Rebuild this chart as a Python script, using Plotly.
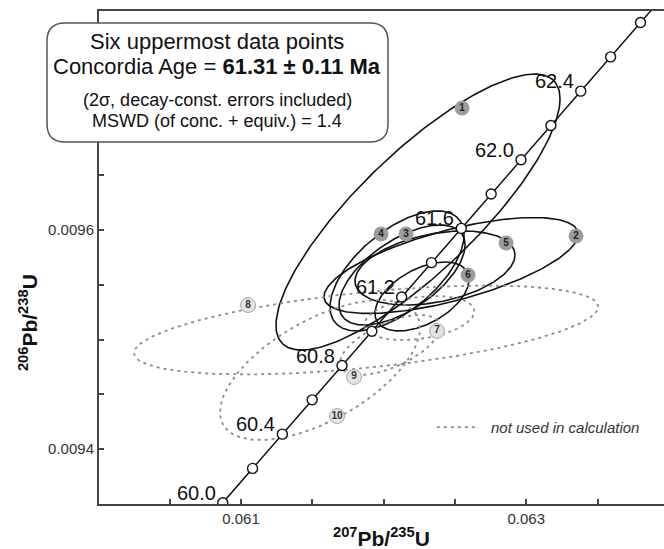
import numpy as np
import plotly.graph_objects as go

# ---------------- data ----------------
# Concordia reference points (age in Ma, 207Pb/235U, 206Pb/238U)
ages = [60.0, 60.2, 60.4, 60.6, 60.8, 61.0, 61.2, 61.4, 61.6, 61.8,
        62.0, 62.2, 62.4, 62.6, 62.8, 63.0]
conc_x = [0.0608718, 0.0610808, 0.0612898, 0.0614989, 0.0617080, 0.0619172,
          0.0621262, 0.0623355, 0.0625448, 0.0627541, 0.0629634, 0.0631728,
          0.0633822, 0.0635917, 0.0638013, 0.0640108]
conc_y = [0.00935095, 0.00938227, 0.00941358, 0.00944490, 0.00947622, 0.00950754,
          0.00953885, 0.00957018, 0.00960151, 0.00963283, 0.00966415, 0.00969548,
          0.00972680, 0.00975813, 0.00978945, 0.00982079]
age_labels = ["60.0", "60.4", "60.8", "61.2", "61.6", "62.0", "62.4"]

# Error ellipses (2 sigma): centre, errors, error correlation
ell_id = ["1", "2", "3", "4", "5", "6", "7", "8", "9", "10"]
ell_x = [0.062241, 0.062473, 0.062129, 0.062094, 0.062360, 0.062269, 0.062250, 0.061877, 0.062045, 0.061554]
ell_y = [0.0096164, 0.0095676, 0.0095589, 0.0095626, 0.0095653, 0.0095393, 0.0095196, 0.0095087, 0.0094950, 0.0094721]
ell_ex = [0.000996, 0.000891, 0.000442, 0.000470, 0.000561, 0.000330, 0.000386, 0.001627, 0.000351, 0.000701]
ell_ey = [0.0001260, 0.0000438, 0.0000457, 0.0000548, 0.0000338, 0.0000315, 0.0000201, 0.0000406, 0.0000274, 0.0000639]
ell_rho = [0.82, 0.65, 0.60, 0.60, 0.35, 0.49, 0.30, 0.52, 0.60, 0.60]
ell_used = [True, True, True, True, True, True, False, False, False, False]

# Ellipse number-label positions
lab_x = [0.0625498, 0.0633492, 0.0621571, 0.0619818, 0.0628583, 0.0625919, 0.0623745, 0.0610491, 0.0617924, 0.0616732]
lab_y = [0.0097114, 0.0095945, 0.0095963, 0.0095963, 0.0095881, 0.0095589, 0.0095078, 0.0095315, 0.0094658, 0.0094301]

x_tickvals = [0.061, 0.063]
x_ticktext = ["0.061", "0.063"]
x_minor = [0.0605, 0.0615, 0.062, 0.0625, 0.0635]
y_tickvals = [0.0094, 0.0096]
y_ticktext = ["0.0094", "0.0096"]
y_minor = [0.00945, 0.0095, 0.00955, 0.00965, 0.0097, 0.00975]

FONT = "Liberation Sans, Arial, sans-serif"

fig = go.Figure()

# ---------------- ellipses ----------------
t = np.linspace(0, 2 * np.pi, 240)
for i in range(len(ell_id)):
    ex, ey, r = ell_ex[i], ell_ey[i], ell_rho[i]
    xs = ell_x[i] + ex * np.cos(t)
    ys = ell_y[i] + ey * (r * np.cos(t) + np.sqrt(1 - r * r) * np.sin(t))
    if ell_used[i]:
        line = dict(color="#111111", width=1.6)
    else:
        line = dict(color="#8c8c8c", width=1.8, dash="3px,4px")
    fig.add_trace(go.Scatter(x=xs, y=ys, mode="lines", line=line,
                             hoverinfo="skip", showlegend=False))

# ---------------- concordia ----------------
fig.add_trace(go.Scatter(x=conc_x, y=conc_y, mode="lines+markers",
                         line=dict(color="#111111", width=1.5),
                         marker=dict(symbol="circle", size=10, color="white",
                                     line=dict(color="#111111", width=1.4)),
                         showlegend=False, hoverinfo="skip"))

# ellipse labels
used_idx = [i for i in range(10) if ell_used[i]]
unused_idx = [i for i in range(10) if not ell_used[i]]
fig.add_trace(go.Scatter(x=[lab_x[i] for i in used_idx], y=[lab_y[i] for i in used_idx],
                         mode="markers+text", text=["<b>%s</b>" % ell_id[i] for i in used_idx],
                         textposition="middle center",
                         textfont=dict(family=FONT, size=10, color="#222222"),
                         marker=dict(size=15, color="#9c9c9c", line=dict(width=0)),
                         showlegend=False, hoverinfo="skip"))
fig.add_trace(go.Scatter(x=[lab_x[i] for i in unused_idx], y=[lab_y[i] for i in unused_idx],
                         mode="markers+text", text=["<b>%s</b>" % ell_id[i] for i in unused_idx],
                         textposition="middle center",
                         textfont=dict(family=FONT, size=10, color="#333333"),
                         marker=dict(size=15, color="#e2e2e2", line=dict(width=1, color="#aaaaaa")),
                         showlegend=False, hoverinfo="skip"))

# age labels on concordia
annotations = []
for lab in age_labels:
    k = ages.index(float(lab))
    annotations.append(dict(x=conc_x[k], y=conc_y[k], xref="x", yref="y",
                            text=lab, showarrow=False, xanchor="right", yanchor="middle",
                            xshift=-5, yshift=10,
                            font=dict(family=FONT, size=20, color="#111111")))

# ---------------- info box ----------------
x0, x1 = -0.0920, 0.5115
y0, y1 = 0.7343, 0.9757
rx, ry = 0.0319, 0.0365
box_path = (f"M {x0+rx},{y1} L {x1-rx},{y1} Q {x1},{y1} {x1},{y1-ry} "
            f"L {x1},{y0+ry} Q {x1},{y0} {x1-rx},{y0} L {x0+rx},{y0} "
            f"Q {x0},{y0} {x0},{y0+ry} L {x0},{y1-ry} Q {x0},{y1} {x0+rx},{y1} Z")
shapes = [dict(type="path", xref="paper", yref="paper", path=box_path,
               fillcolor="white", line=dict(color="#555555", width=1.5), layer="above")]

cx = 0.2097
box_lines = [
    ("Six uppermost data points", 0.9391, 22),
    ("Concordia Age = <b>61.31 ± 0.11 Ma</b>", 0.8874, 22),
    ("(2σ, decay-const. errors included)", 0.8195, 18),
    ("MSWD (of conc. + equiv.) = 1.4", 0.7769, 18),
]
for txt, yy, sz in box_lines:
    annotations.append(dict(x=cx, y=yy, xref="paper", yref="paper", text=txt,
                            showarrow=False, xanchor="center", yanchor="middle",
                            font=dict(family=FONT, size=sz, color="#111111")))

# legend for dashed ellipses
shapes.append(dict(type="line", xref="paper", yref="paper", x0=0.598, x1=0.6726,
                   y0=0.156, y1=0.156, line=dict(color="#8c8c8c", width=1.8, dash="3px,4px")))
annotations.append(dict(x=0.690, y=0.156, xref="paper", yref="paper",
                        text="<i>not used in calculation</i>", showarrow=False,
                        xanchor="left", yanchor="middle",
                        font=dict(family=FONT, size=15, color="#333333")))

# axis titles
annotations.append(dict(x=0.5, y=-0.066, xref="paper", yref="paper",
                        text="<b><sup>207</sup>Pb/<sup>235</sup>U</b>", showarrow=False,
                        xanchor="center", yanchor="middle",
                        font=dict(family=FONT, size=21, color="#111111")))
annotations.append(dict(x=-0.1257, y=0.369, xref="paper", yref="paper",
                        text="<b><sup>206</sup>Pb/<sup>238</sup>U</b>", showarrow=False,
                        textangle=-90, xanchor="center", yanchor="middle",
                        font=dict(family=FONT, size=21, color="#111111")))

tick_style = dict(ticks="inside", ticklen=5, tickwidth=1.5, tickcolor="#444444")
fig.update_layout(
    width=664, height=549,
    margin=dict(l=99, r=0, t=11, b=45),
    paper_bgcolor="white", plot_bgcolor="white",
    shapes=shapes, annotations=annotations,
    showlegend=False,
    xaxis=dict(range=[0.060004, 0.063966], showgrid=False, zeroline=False,
               showline=True, linecolor="#444444", linewidth=2, mirror=True,
               tickmode="array", tickvals=x_tickvals, ticktext=x_ticktext,
               minor=dict(tickmode="array", tickvals=x_minor, showgrid=False, **tick_style),
               tickfont=dict(family=FONT, size=15, color="#333333"), **tick_style),
    yaxis=dict(range=[0.00934977, 0.0098], showgrid=False, zeroline=False,
               showline=True, linecolor="#444444", linewidth=2,
               tickmode="array", tickvals=y_tickvals, ticktext=y_ticktext,
               minor=dict(tickmode="array", tickvals=y_minor, showgrid=False, **tick_style),
               tickfont=dict(family=FONT, size=15, color="#333333"), **tick_style),
)

fig.write_html("out.html")
